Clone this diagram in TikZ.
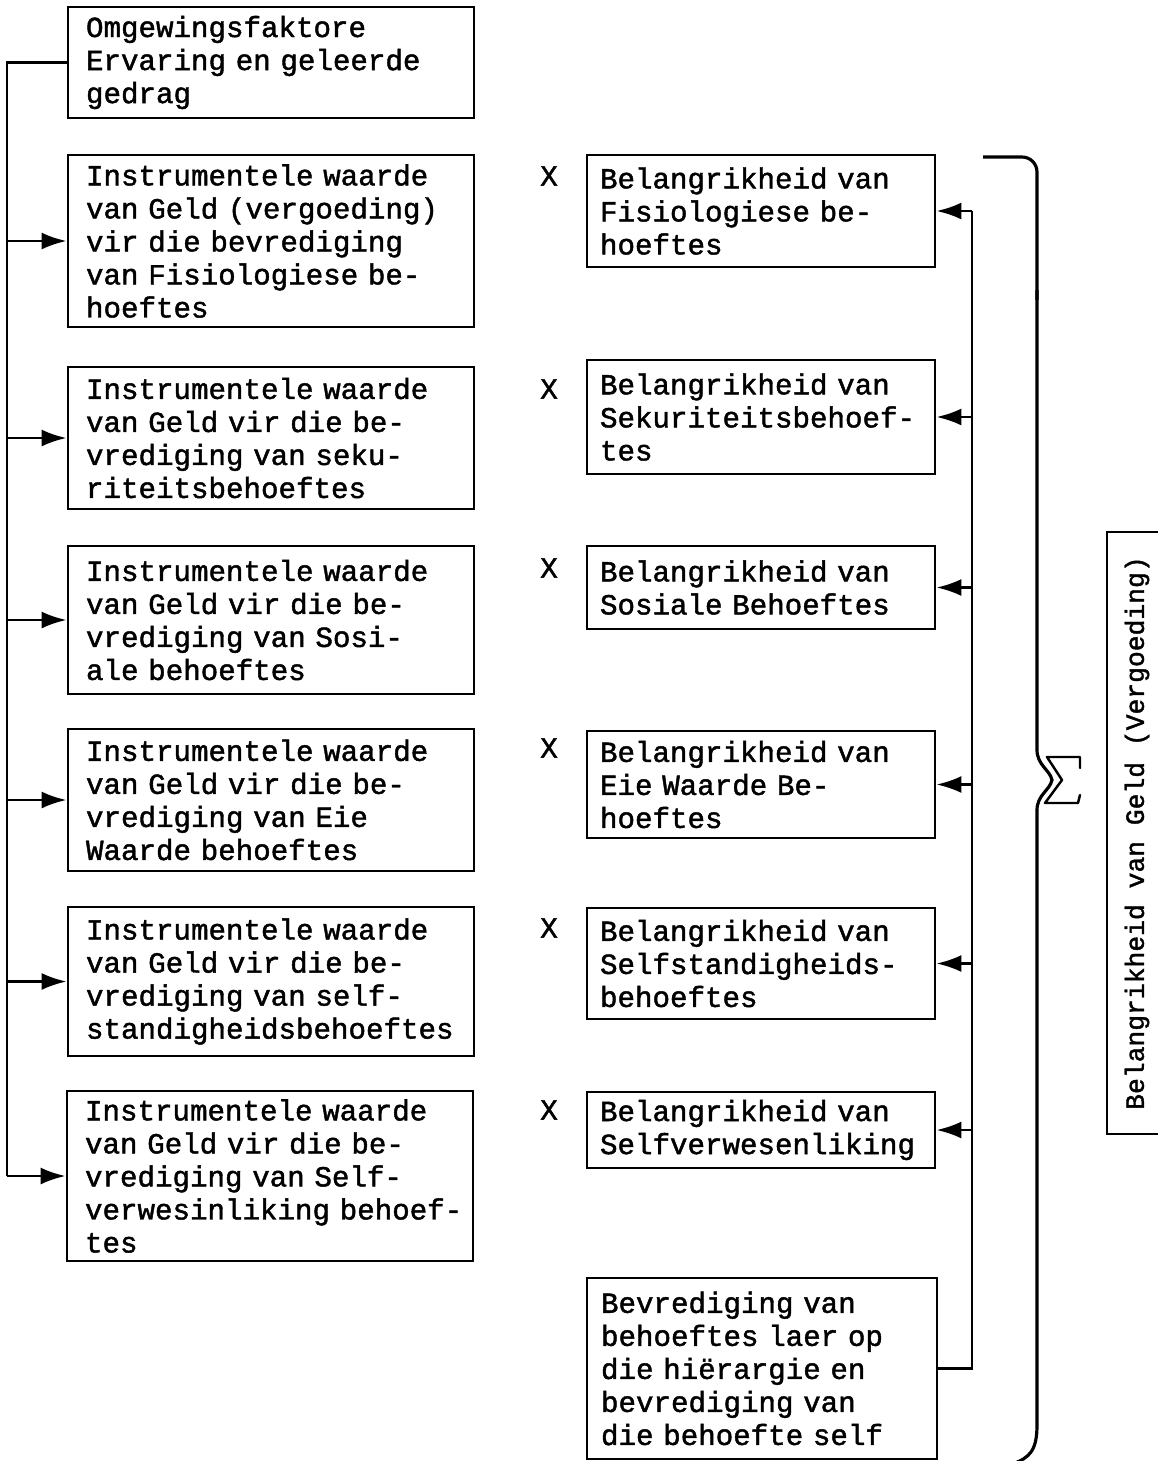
\documentclass[tikz,border=0pt]{standalone}
\usepackage{fontspec}
\setmonofont{Liberation Mono}[FakeBold=1.5]
\usetikzlibrary{arrows.meta,positioning}

\tikzset{
  box/.style={draw, line width=1.6pt, align=left, inner ysep=0pt,
    font=\ttfamily\fontsize{16.6}{18.8}\selectfont},
  lbox/.style={box, text width=7.4cm, inner xsep=0.36cm},
  rbox/.style={box, text width=6.44cm, inner xsep=0.26cm},
  times/.style={font=\ttfamily\fontsize{16.6}{18.8}\selectfont},
  wire/.style={line width=1.6pt},
  feed/.style={wire, -{Latex[length=5mm, width=3.4mm]}},
}

\begin{document}
\begin{tikzpicture}[x=0.02cm, y=-0.02cm]
  \useasboundingbox (0,0) rectangle (1157,1461);

  \node[lbox, minimum height=2.22cm] (l1) at (271,62.5)
    {Omgewingsfaktore\\Ervaring en geleerde\\gedrag};
  \node[lbox, minimum height=3.44cm] (l2) at (271,241)
    {Instrumentele waarde\\van Geld (vergoeding)\\vir die bevrediging\\van Fisiologiese be-\\hoeftes};
  \node[lbox, minimum height=2.84cm] (l3) at (271,438)
    {Instrumentele waarde\\van Geld vir die be-\\vrediging van seku-\\riteitsbehoeftes};
  \node[lbox, minimum height=2.96cm] (l4) at (271,620)
    {Instrumentele waarde\\van Geld vir die be-\\vrediging van Sosi-\\ale behoeftes};
  \node[lbox, minimum height=2.84cm] (l5) at (271,800)
    {Instrumentele waarde\\van Geld vir die be-\\vrediging van Eie\\Waarde behoeftes};
  \node[lbox, minimum height=2.98cm] (l6) at (271,981.5)
    {Instrumentele waarde\\van Geld vir die be-\\vrediging van self-\\standigheidsbehoeftes};
  \node[lbox, minimum height=3.40cm] (l7) at (270,1176)
    {Instrumentele waarde\\van Geld vir die be-\\vrediging van Self-\\verwesinliking~behoef-\\tes};

  \node[rbox, minimum height=2.24cm] (r1) at (761,211)
    {Belangrikheid van\\Fisiologiese be-\\hoeftes};
  \node[rbox, minimum height=2.28cm] (r2) at (761,417)
    {Belangrikheid van\\Sekuriteitsbehoef-\\tes};
  \node[rbox, minimum height=1.66cm] (r3) at (761,587.5)
    {Belangrikheid van\\Sosiale Behoeftes};
  \node[rbox, minimum height=2.14cm] (r4) at (761,784.5)
    {Belangrikheid van\\Eie Waarde Be-\\hoeftes};
  \node[rbox, minimum height=2.22cm] (r5) at (761,963.5)
    {Belangrikheid van\\Selfstandigheids-\\behoeftes};
  \node[rbox, minimum height=1.52cm] (r6) at (761,1130)
    {Belangrikheid van\\Selfverwesenliking};
  \node[rbox, inner xsep=0.28cm, minimum height=3.62cm] (r7) at (762,1368.5)
    {Bevrediging van\\behoeftes laer op\\die hiërargie en\\bevrediging van\\die behoefte self};

  \node[times] (x1) at (549,176) {X};
  \node[times] (x2) at (549,389) {X};
  \node[times] (x3) at (549,568) {X};
  \node[times] (x4) at (549,748) {X};
  \node[times] (x5) at (549,928) {X};
  \node[times] (x6) at (549,1110) {X};

  \node[draw, line width=1.6pt, rotate=90, minimum width=12.04cm, minimum height=1.2cm,
    font=\ttfamily\fontsize{15}{18}\selectfont] (sum) at (1137,833)
    {Belangrikheid van Geld (Vergoeding)};

  \coordinate (lbus) at (7,0);
  \coordinate (rbus) at (972,0);

  \draw[wire] (l1.west) -- (lbus |- l1.west) -- (lbus |- l7.west);
  \foreach \n in {l2,l3,l4,l5,l6,l7}
    \draw[feed] (lbus |- \n.west) -- (\n.west);

  \draw[wire] (r7.east) -- (rbus |- r7.east) -- (rbus |- r1.east);
  \foreach \n in {r1,r2,r3,r4,r5,r6}
    \draw[feed] (rbus |- \n.east) -- (\n.east);

  \draw[line width=1.8pt, rounded corners=0.3cm] (983,157) -- (1037,157) -- (1037,300);
  \draw[line width=1.8pt] (1037,290) -- (1037,750)
    .. controls (1037,765) and (1050,770) .. (1052,780)
    .. controls (1050,790) and (1037,795) .. (1037,810)
    -- (1037,1425) .. controls (1037,1450) and (1030,1458) .. (1012,1464);
  \draw[line width=1.4pt, line join=round, line cap=round]
    (1080,768) -- (1080,757) -- (1047,757) -- (1062,780)
    -- (1045,803) -- (1078,803) -- (1080,795);
\end{tikzpicture}
\end{document}
